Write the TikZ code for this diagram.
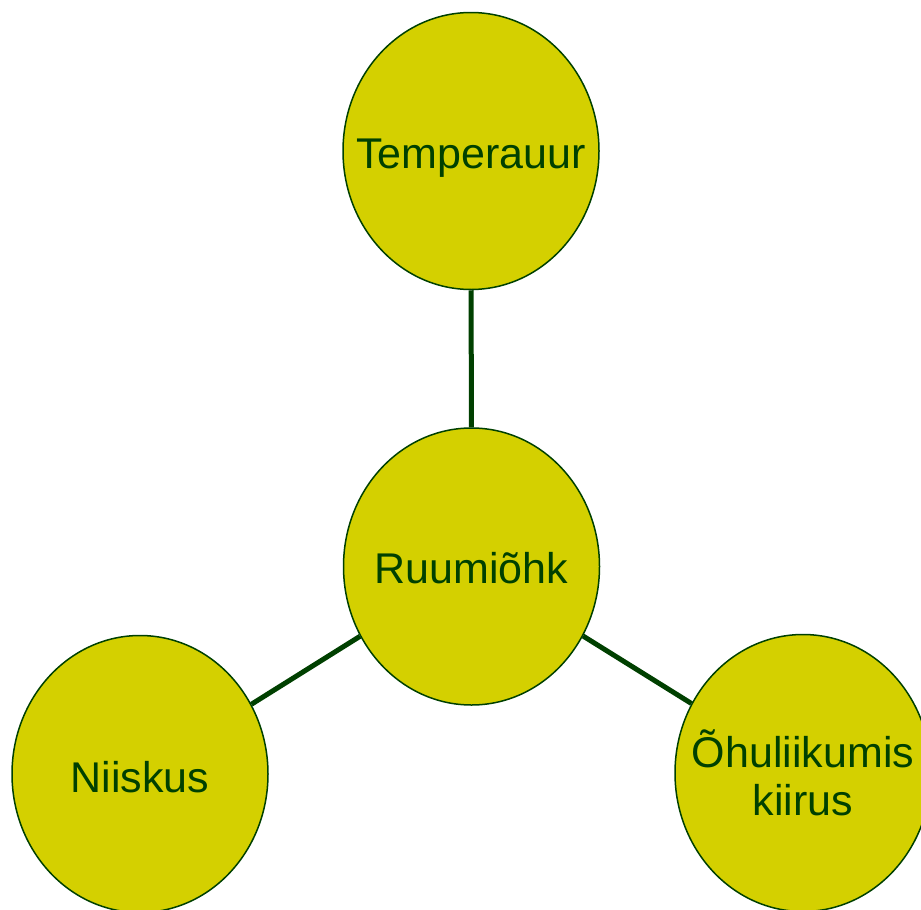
\documentclass[tikz,border=0pt]{standalone}
\usepackage{fontspec}
\setmainfont{Liberation Sans}
\usetikzlibrary{shapes.geometric}
\definecolor{bubblefill}{RGB}{212,208,0}
\definecolor{darkgreen}{RGB}{0,64,0}
\tikzset{
  bubble/.style={ellipse, draw=darkgreen, line width=1.5pt, fill=bubblefill,
    minimum width=256pt, minimum height=277pt, inner sep=0pt},
  bubbletext/.style={text=darkgreen, align=center, inner sep=0pt,
    font=\fontsize{43}{48}\selectfont},
  oneline/.style={bubbletext, text height=31pt, text depth=0pt},
  link/.style={draw=darkgreen, line width=5pt}
}
\begin{document}
\begin{tikzpicture}[x=1pt,y=-1pt]
  \useasboundingbox (0,0) rectangle (921,910);
  \clip (0,0) rectangle (921,910);
  \node[bubble, label={[oneline, yshift=-1.5pt]center:Temperauur}] (top) at (471,151) {};
  \node[bubble, label={[oneline, yshift=-1.5pt]center:Ruumiõhk}] (mid) at (471.5,566.5) {};
  \node[bubble, label={[oneline, yshift=-3pt]center:Niiskus}] (left) at (140,774) {};
  \node[bubble, label={[bubbletext]center:{Õhuliikumis\\kiirus}}] (right) at (803,773) {};
  \draw[link] (top) -- (mid);
  \draw[link] (mid) -- (left);
  \draw[link] (mid) -- (right);
\end{tikzpicture}
\end{document}
